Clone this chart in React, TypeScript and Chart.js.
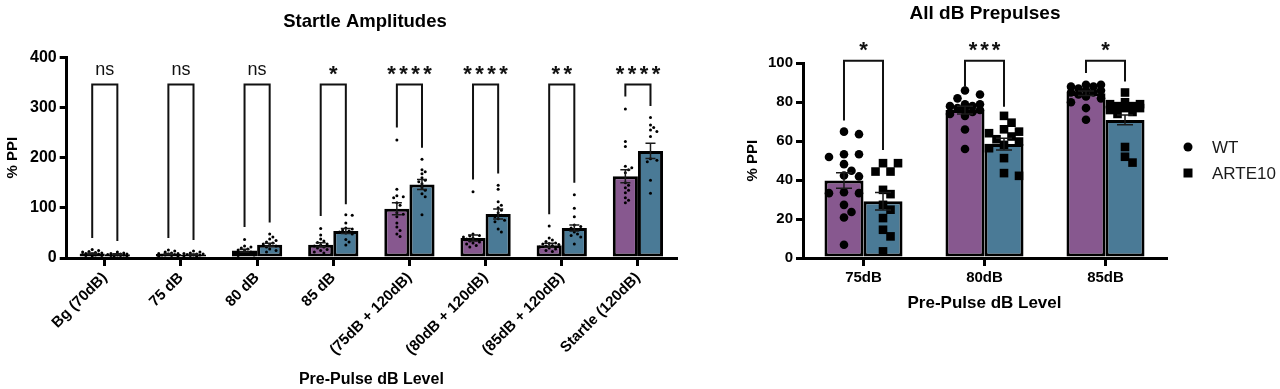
import React, { useEffect, useRef } from 'react';
import { Chart, registerables } from 'chart.js';
Chart.register(...registerables);

const FONT = "'Liberation Sans', Arial, sans-serif";
const PURPLE = '#87588f';
const BLUE = '#4a7a96';

// ---------- Left chart data: Startle Amplitudes ----------
const leftCategories = ['Bg (70dB)', '75 dB', '80 dB', '85 dB', '(75dB + 120dB)', '(80dB + 120dB)', '(85dB + 120dB)', 'Startle (120dB)'];
const leftWTMeans = [9, 8, 14.7, 26.5, 98, 39.8, 25.2, 163];
const leftARTEMeans = [7.5, 7, 26.5, 53.7, 146.7, 87.6, 59.7, 213.5];
const leftWTSem = [1, 1, 2.5, 4, 12, 6, 4, 13];
const leftARTESem = [1, 1, 3, 5, 10, 10, 6, 15];
const leftWTPoints = [
  [17, 15, 13, 12, 11, 10, 9, 8, 8, 7, 7, 6, 5, 5, 4],
  [16, 14, 12, 10, 9, 9, 8, 7, 6, 6, 5, 4, 3],
  [37, 24, 22, 20, 18, 16, 14, 12, 10, 9, 8, 6, 5],
  [59, 46, 38, 34, 31, 28, 26, 24, 22, 20, 17, 15, 12, 10],
  [235, 137, 124, 122, 120, 110, 105, 90, 87, 82, 70, 62, 55, 48, 43],
  [132, 48, 45, 44, 42, 40, 38, 36, 34, 32, 30, 28, 25, 22],
  [64, 40, 36, 33, 30, 29, 28, 27, 25, 24, 22, 20, 18, 15, 13],
  [297, 232, 222, 183, 180, 176, 170, 150, 145, 140, 135, 130, 120, 115, 110],
];
const leftARTEPoints = [
  [12, 10, 9, 8, 8, 7, 7, 6, 6, 5, 5, 4, 4],
  [14, 12, 10, 9, 8, 8, 7, 6, 6, 5, 4, 3],
  [48, 42, 38, 35, 32, 30, 28, 26, 24, 22, 18, 15, 12],
  [86, 85, 70, 60, 58, 56, 54, 52, 50, 48, 37, 32, 26],
  [197, 176, 172, 168, 160, 155, 152, 148, 140, 135, 128, 122, 86],
  [145, 137, 112, 105, 100, 95, 90, 85, 82, 78, 75, 72, 58, 52],
  [126, 99, 82, 66, 63, 60, 52, 48, 45, 42, 28],
  [280, 265, 260, 255, 252, 242, 198, 195, 192, 155, 129],
];
const leftBracketTop = [346, 346, 346, 346, 346, 346, 346, 346];
const leftBracketWT = [40, 40, 62, 83.5, 260, 156.6, 87, 322];
const leftBracketARTE = [34, 36, 71, 107, 219.5, 168.5, 150, 303];
const leftSig = ['ns', 'ns', 'ns', '*', '****', '****', '**', '****'];

// ---------- Right chart data: All dB Prepulses ----------
const rightCategories = ['75dB', '80dB', '85dB'];
const rightWTMeans = [39.8, 76, 84.6];
const rightARTEMeans = [29.2, 58.5, 70.9];
const rightWTSem = [4, 2, 1.2];
const rightARTESem = [4.5, 3, 2.5];
const rightWTPoints = [
  [64.9, 63.6, 53.3, 53.3, 51.9, 48.2, 44.8, 42.4, 41.9, 33.8, 33.3, 33.3, 27.3, 23.6, 20.8, 6.8],
  [86, 84, 82, 79, 79, 78, 78, 77, 77, 76, 75, 74, 73, 66, 56],
  [89, 89, 88, 88, 87, 86, 86, 85, 85, 84, 83, 82, 80, 77, 71],
];
const rightARTEPoints = [
  [48.7, 48.7, 44.4, 44.4, 35, 32.8, 27.3, 24.8, 20.5, 14.5, 11.1, 3.4],
  [73, 69.5, 66.1, 64.9, 64.1, 62.4, 61, 59.8, 58.1, 56.4, 51.3, 43.6, 42.2],
  [85, 80, 79, 79, 78, 78, 77, 77, 76, 75, 74, 57, 52, 49],
];
const rightBracketTop = [101.3, 101.3, 101.3];
const rightBracketWT = [70.6, 88, 95];
const rightBracketARTE = [55.5, 77.7, 90.6];
const rightSig = ['*', '***', '*'];
const seriesNames = ['WT', 'ARTE10'];

function swarm(ys: number[], cx: number, minDist: number, step: number, maxOff: number) {
  const placed: { x: number; y: number }[] = [];
  const sorted = [...ys].sort((a, b) => a - b);
  for (const y of sorted) {
    let best = cx;
    let bestScore = -1;
    for (let i = 0; i < 60; i++) {
      const off = i === 0 ? 0 : (i % 2 === 1 ? 1 : -1) * Math.ceil(i / 2) * step;
      if (Math.abs(off) > maxOff) break;
      const x = cx + off;
      let md = Infinity;
      for (const p of placed) md = Math.min(md, Math.hypot(p.x - x, p.y - y));
      if (md >= minDist) { best = x; break; }
      if (md > bestScore) { bestScore = md; best = x; }
    }
    placed.push({ x: best, y });
  }
  return placed;
}

function drawMarker(ctx: CanvasRenderingContext2D, style: string, x: number, y: number, r: number) {
  ctx.beginPath();
  if (style === 'rect') {
    ctx.rect(x - r, y - r, 2 * r, 2 * r);
  } else {
    ctx.arc(x, y, r, 0, Math.PI * 2);
  }
  ctx.fill();
}

function drawStars(ctx: CanvasRenderingContext2D, s: string, cx: number, cy: number, pitch: number, starFont: string, textFont: string) {
  if (/^\*+$/.test(s)) {
    ctx.font = starFont;
    ctx.textAlign = 'center';
    ctx.textBaseline = 'alphabetic';
    const m = ctx.measureText('*');
    const base = cy + (m.actualBoundingBoxAscent - m.actualBoundingBoxDescent) / 2;
    const n = s.length;
    for (let k = 0; k < n; k++) {
      ctx.fillText('*', cx + (k - (n - 1) / 2) * pitch, base);
    }
  } else {
    ctx.font = textFont;
    ctx.textAlign = 'center';
    ctx.textBaseline = 'middle';
    ctx.fillText(s, cx, cy);
  }
}

type Cfg = {
  points: number[][][];
  sems: number[][];
  styles: string[];
  radius: number;
  minDist: number;
  step: number;
  maxOff: number;
  capHalf: number;
  bracketTop: number[];
  bracketWT: number[];
  bracketARTE: number[];
  sig: string[];
  starPitch: number;
  starFont: string;
  textFont: string;
  title: string;
  titleX: number;
  titleY: number;
  titleFont: string;
  legend?: { x: number; y: number; gap: number; r: number };
};

function makeOverlay(p: Cfg) {
  return {
    id: 'overlay',
    afterDatasetsDraw(chart: any) {
      const ctx: CanvasRenderingContext2D = chart.ctx;
      const ys = chart.scales.y;
      const metas = [chart.getDatasetMeta(0), chart.getDatasetMeta(1)];
      ctx.save();
      // individual points
      ctx.fillStyle = '#000';
      for (let d = 0; d < 2; d++) {
        p.points[d].forEach((vals, i) => {
          const bar = metas[d].data[i];
          const placed = swarm(vals.map((v) => ys.getPixelForValue(v)), bar.x, p.minDist, p.step, p.maxOff);
          placed.forEach((pt) => drawMarker(ctx, p.styles[d], pt.x, pt.y, p.radius));
        });
      }
      // error bars (SEM)
      ctx.strokeStyle = '#1a1a1a';
      ctx.lineWidth = 1.5;
      for (let d = 0; d < 2; d++) {
        const data = chart.data.datasets[d].data as number[];
        data.forEach((m, i) => {
          const bx = metas[d].data[i].x;
          const s = p.sems[d][i];
          const t = ys.getPixelForValue(m + s);
          const b = ys.getPixelForValue(Math.max(0, m - s));
          ctx.beginPath();
          ctx.moveTo(bx, t); ctx.lineTo(bx, b);
          ctx.moveTo(bx - p.capHalf, t); ctx.lineTo(bx + p.capHalf, t);
          ctx.moveTo(bx - p.capHalf, b); ctx.lineTo(bx + p.capHalf, b);
          ctx.stroke();
        });
      }
      // brackets + significance
      ctx.strokeStyle = '#111';
      ctx.lineWidth = 2;
      ctx.fillStyle = '#111';
      p.bracketTop.forEach((top, i) => {
        const xl = metas[0].data[i].x;
        const xr = metas[1].data[i].x;
        const yt = ys.getPixelForValue(top);
        ctx.beginPath();
        ctx.moveTo(xl, ys.getPixelForValue(p.bracketWT[i]));
        ctx.lineTo(xl, yt);
        ctx.lineTo(xr, yt);
        ctx.lineTo(xr, ys.getPixelForValue(p.bracketARTE[i]));
        ctx.stroke();
        drawStars(ctx, p.sig[i], (xl + xr) / 2, yt - 14, p.starPitch, p.starFont, p.textFont);
      });
      // title
      ctx.fillStyle = '#000';
      ctx.font = p.titleFont;
      ctx.textAlign = 'center';
      ctx.textBaseline = 'middle';
      ctx.fillText(p.title, p.titleX, p.titleY);
      // legend
      if (p.legend) {
        const L = p.legend;
        for (let d = 0; d < 2; d++) {
          const yy = L.y + d * L.gap;
          ctx.fillStyle = '#000';
          drawMarker(ctx, p.styles[d], L.x, yy, L.r);
          ctx.fillStyle = '#1a1a1a';
          ctx.font = `17px ${FONT}`;
          ctx.textAlign = 'left';
          ctx.textBaseline = 'middle';
          ctx.fillText(seriesNames[d], L.x + 24, yy + 1);
        }
      }
      ctx.restore();
    },
  };
}

type PanelProps = {
  width: number;
  left: number;
  categories: string[];
  wt: number[];
  arte: number[];
  yMax: number;
  yStep: number;
  yWidth: number;
  xHeight: number;
  padding: { top: number; right: number; bottom: number; left: number };
  catPct: number;
  rotate: number;
  xTickSize: number;
  yTickSize: number;
  xTitleSize: number;
  cfg: Cfg;
};

function Panel(props: PanelProps) {
  const ref = useRef<HTMLCanvasElement | null>(null);
  useEffect(() => {
    if (!ref.current) return;
    const chart = new Chart(ref.current, {
      type: 'bar',
      data: {
        labels: props.categories,
        datasets: [
          { label: seriesNames[0], data: props.wt, backgroundColor: PURPLE, borderColor: '#000', borderWidth: 3, borderSkipped: false, categoryPercentage: props.catPct, barPercentage: 1 },
          { label: seriesNames[1], data: props.arte, backgroundColor: BLUE, borderColor: '#000', borderWidth: 3, borderSkipped: false, categoryPercentage: props.catPct, barPercentage: 1 },
        ],
      },
      options: {
        responsive: false,
        animation: false,
        devicePixelRatio: 1,
        layout: { padding: props.padding },
        plugins: { legend: { display: false }, tooltip: { enabled: false } },
        scales: {
          x: {
            afterFit: (s: any) => { s.height = props.xHeight; },
            grid: { offset: false, drawOnChartArea: false, drawTicks: true, tickLength: 8, color: '#000', lineWidth: 3 },
            border: { display: true, color: '#000', width: 3 },
            ticks: { color: '#000', font: { family: FONT, size: props.xTickSize, weight: 'bold' }, minRotation: props.rotate, maxRotation: props.rotate, padding: 3, autoSkip: false },
            title: { display: true, text: 'Pre-Pulse dB Level', color: '#000', font: { family: FONT, size: props.xTitleSize, weight: 'bold' }, padding: { top: 0, bottom: 0 } },
          },
          y: {
            min: 0,
            max: props.yMax,
            afterFit: (s: any) => { s.width = props.yWidth; },
            grid: { drawOnChartArea: false, drawTicks: true, tickLength: 7, color: '#000', lineWidth: 3 },
            border: { display: true, color: '#000', width: 3 },
            ticks: { stepSize: props.yStep, color: '#000', font: { family: FONT, size: props.yTickSize, weight: 'bold' }, padding: 3 },
            title: { display: true, text: '% PPI', color: '#000', font: { family: FONT, size: 15, weight: 'bold' }, padding: { top: 4, bottom: 0 } },
          },
        },
      } as any,
      plugins: [makeOverlay(props.cfg) as any],
    });
    return () => chart.destroy();
  }, []);
  return (
    <canvas
      ref={ref}
      width={props.width}
      height={389}
      style={{ position: 'absolute', left: props.left, top: 0, width: props.width, height: 389, display: 'block' }}
    />
  );
}

export default function App() {
  return (
    <div style={{ position: 'fixed', left: 0, top: 0, width: 1280, height: 389, background: '#fff', overflow: 'hidden' }}>
      <Panel
        width={700}
        left={0}
        categories={leftCategories}
        wt={leftWTMeans}
        arte={leftARTEMeans}
        yMax={400}
        yStep={100}
        yWidth={66.7}
        xHeight={131}
        padding={{ top: 57.3, right: 24, bottom: 0, left: 0 }}
        catPct={0.66}
        rotate={45}
        xTickSize={15}
        yTickSize={16}
        xTitleSize={16}
        cfg={{
          points: [leftWTPoints, leftARTEPoints],
          sems: [leftWTSem, leftARTESem],
          styles: ['circle', 'circle'],
          radius: 1.5,
          minDist: 3.6,
          step: 3.2,
          maxOff: 10,
          capHalf: 5,
          bracketTop: leftBracketTop,
          bracketWT: leftBracketWT,
          bracketARTE: leftBracketARTE,
          sig: leftSig,
          starPitch: 12,
          starFont: `bold 22px ${FONT}`,
          textFont: `18px ${FONT}`,
          title: 'Startle Amplitudes',
          titleX: 365,
          titleY: 22,
          titleFont: `bold 18.5px ${FONT}`,
        }}
      />
      <Panel
        width={540}
        left={740}
        categories={rightCategories}
        wt={rightWTMeans}
        arte={rightARTEMeans}
        yMax={100}
        yStep={20}
        yWidth={63}
        xHeight={56}
        padding={{ top: 63.3, right: 114, bottom: 75, left: 0 }}
        catPct={0.645}
        rotate={0}
        xTickSize={15}
        yTickSize={15}
        xTitleSize={17}
        cfg={{
          points: [rightWTPoints, rightARTEPoints],
          sems: [rightWTSem, rightARTESem],
          styles: ['circle', 'rect'],
          radius: 4.3,
          minDist: 8.5,
          step: 7.5,
          maxOff: 16,
          capHalf: 8,
          bracketTop: rightBracketTop,
          bracketWT: rightBracketWT,
          bracketARTE: rightBracketARTE,
          sig: rightSig,
          starPitch: 11.5,
          starFont: `bold 22px ${FONT}`,
          textFont: `18px ${FONT}`,
          title: 'All dB Prepulses',
          titleX: 245,
          titleY: 14,
          titleFont: `bold 19px ${FONT}`,
          legend: { x: 448, y: 147, gap: 26, r: 4.5 },
        }}
      />
    </div>
  );
}
